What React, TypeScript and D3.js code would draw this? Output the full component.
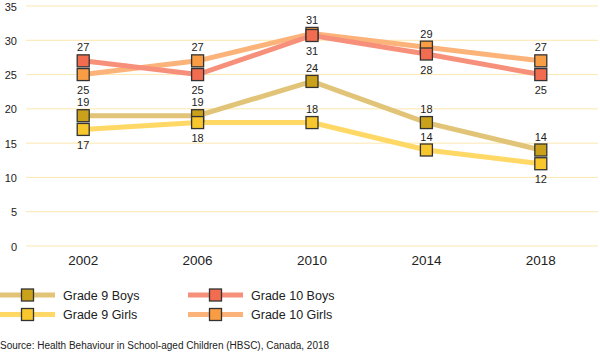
import React from "react";
import * as d3 from "d3";

const years = ["2002", "2006", "2010", "2014", "2018"];
const grade9Boys = [19, 19, 24, 18, 14];
const grade9Girls = [17, 18, 18, 14, 12];
const grade10Boys = [27, 25, 30.7, 28, 25];
const grade10Girls = [25, 27, 31.0, 29, 27];
const yTicks = [0, 5, 10, 15, 20, 25, 30, 35];
// label placement: 1 = above the marker, -1 = below
const g9BoysLabelSide = [1, 1, 1, 1, 1];
const g9GirlsLabelSide = [-1, -1, 1, 1, -1];
const g10BoysLabelSide = [1, -1, -1, -1, -1];
const g10GirlsLabelSide = [-1, 1, 1, 1, 1];
const sourceText = "Source: Health Behaviour in School-aged Children (HBSC), Canada, 2018";

const W = 600;
const H = 355;
const FONT = "'Liberation Sans', Arial, sans-serif";

type Series = {
  name: string;
  values: number[];
  sides: number[];
  line: string;
  marker: string;
};

const g9b: Series = { name: "Grade 9 Boys", values: grade9Boys, sides: g9BoysLabelSide, line: "#e2c479", marker: "#c9a11b" };
const g9g: Series = { name: "Grade 9 Girls", values: grade9Girls, sides: g9GirlsLabelSide, line: "#ffd865", marker: "#f8c62d" };
const g10b: Series = { name: "Grade 10 Boys", values: grade10Boys, sides: g10BoysLabelSide, line: "#f7907a", marker: "#f26d50" };
const g10g: Series = { name: "Grade 10 Girls", values: grade10Girls, sides: g10GirlsLabelSide, line: "#fcb37a", marker: "#f99d45" };

const lineOrder = [g9b, g9g, g10g, g10b];
const legendItems = [
  [g9b, 0, 0],
  [g9g, 0, 1],
  [g10b, 1, 0],
  [g10g, 1, 1],
] as [Series, number, number][];

export default function App() {
  const x = d3.scalePoint<string>().domain(years).range([26, 598]).padding(0.5);
  const y = d3.scaleLinear().domain([0, 35]).range([246, 6]);
  const line = d3
    .line<number>()
    .x((_, i) => x(years[i]) as number)
    .y((v) => y(v));
  const ms = 12;

  return (
    <svg
      width={W}
      height={H}
      style={{ position: "absolute", left: 0, top: 0, background: "#fff" }}
      fontFamily={FONT}
    >
      {yTicks.map((t) => (
        <g key={t}>
          <line x1={26} x2={598} y1={y(t)} y2={y(t)} stroke="#fbe7ae" strokeWidth={1} />
          <text x={17} y={y(t) + 4.5} textAnchor="end" fontSize={11} fill="#222">
            {t}
          </text>
        </g>
      ))}
      {years.map((yr) => (
        <text key={yr} x={x(yr)} y={265} textAnchor="middle" fontSize={13.5} fill="#222">
          {yr}
        </text>
      ))}
      {lineOrder.map((s) => (
        <path key={s.name + "l"} d={line(s.values) || ""} fill="none" stroke={s.line} strokeWidth={5} />
      ))}
      {lineOrder.map((s) =>
        s.values.map((v, i) => (
          <rect
            key={s.name + i}
            x={(x(years[i]) as number) - ms / 2}
            y={y(v) - ms / 2}
            width={ms}
            height={ms}
            fill={s.marker}
            stroke="#333"
            strokeWidth={1.3}
          />
        ))
      )}
      {lineOrder.map((s) =>
        s.values.map((v, i) => (
          <text
            key={s.name + "t" + i}
            x={x(years[i]) as number}
            y={s.sides[i] > 0 ? y(v) - 9.5 : y(v) + 19.5}
            textAnchor="middle"
            fontSize={11}
            fill="#222"
          >
            {Math.round(v)}
          </text>
        ))
      )}
      {legendItems.map(([s, col, row]) => {
        const x0 = col === 0 ? 0 : 188;
        const ly = 295 + row * 19.5;
        return (
          <g key={s.name + "lg"}>
            <line x1={x0} x2={x0 + 55} y1={ly} y2={ly} stroke={s.line} strokeWidth={5} />
            <rect x={x0 + 27.5 - ms / 2} y={ly - ms / 2} width={ms} height={ms} fill={s.marker} stroke="#333" strokeWidth={1.3} />
            <text x={x0 + 63} y={ly + 4.5} fontSize={12.5} fill="#222">
              {s.name}
            </text>
          </g>
        );
      })}
      <text x={0} y={349} fontSize={10} fill="#222">
        {sourceText}
      </text>
    </svg>
  );
}
